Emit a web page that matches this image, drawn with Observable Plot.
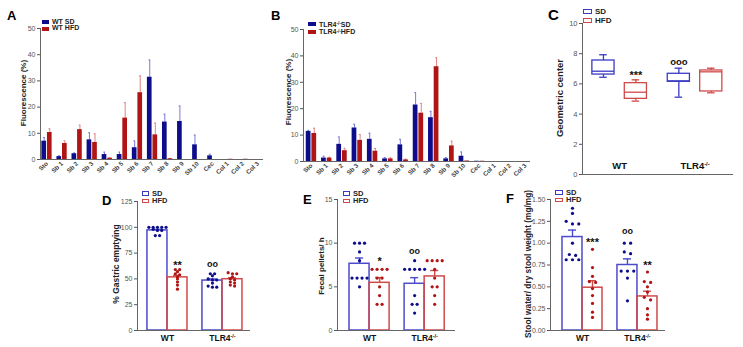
<!DOCTYPE html>
<html><head><meta charset="utf-8">
<script src="https://cdn.jsdelivr.net/npm/d3@7"></script>
<script src="https://cdn.jsdelivr.net/npm/@observablehq/plot@0.6"></script>
<style>
body{margin:0;background:#fff;font-family:Arial,"Liberation Sans",sans-serif;}
#root{position:relative;width:743px;height:347px;overflow:hidden;background:#fff;}
.pw{position:absolute;}
.let{position:absolute;font-weight:bold;font-size:13px;line-height:13px;color:#000;}
.yt{position:absolute;font-weight:bold;color:#222;white-space:nowrap;transform:translate(-50%,-50%) rotate(-90deg);}
.lg{position:absolute;font-weight:bold;color:#222;white-space:nowrap;}
.lg div{display:flex;align-items:center;}
.sw{display:inline-block;box-sizing:border-box;margin-right:3px;}
sup{font-size:0.65em;line-height:0;}
</style></head><body><div id="root"></div>
<script>
// ---------- DATA ----------
const segments = ["Sto","Sb 1","Sb 2","Sb 3","Sb 4","Sb 5","Sb 6","Sb 7","Sb 8","Sb 9","Sb 10","Cec","Col 1","Col 2","Col 3"];
// Panel A (WT)
const aSD     = [7.0, 1.1, 2.2, 7.5, 1.9, 1.9, 4.5, 31.4, 14.3, 14.5, 5.6, 1.4, 0, 0, 0];
const aSDsem  = [1.4, 0.3, 0.3, 2.7, 0.9, 0.9, 2.6, 6.6, 3.0, 5.9, 3.7, 0.6, 0, 0, 0];
const aHFD    = [10.3, 6.1, 11.4, 6.5, 0.5, 15.8, 25.5, 9.4, 0.3, 0, 0, 0, 0.1, 0.1, 0];
const aHFDsem = [1.4, 1.0, 1.7, 3.3, 0.1, 5.9, 6.4, 4.5, 0.1, 0, 0, 0, 0, 0, 0];
// Panel B (TLR4-/-)
const bSD     = [11.4, 1.3, 6.5, 12.7, 8.4, 1.0, 6.3, 21.4, 16.6, 1.0, 2.0, 0.1, 0, 0, 0];
const bSDsem  = [0.4, 0.7, 2.8, 1.4, 2.3, 0.5, 2.1, 4.7, 2.4, 0.5, 1.6, 0, 0, 0, 0];
const bHFD    = [10.6, 1.3, 4.1, 8.0, 3.9, 1.0, 0.6, 18.3, 35.9, 5.9, 0.2, 0.1, 0, 0, 0];
const bHFDsem = [2.0, 0.3, 0.9, 2.2, 1.0, 0.4, 0.3, 3.7, 3.4, 1.8, 0, 0, 0, 0, 0];

const groups = ["WT", "TLR4-/-"];
const diets = ["SD", "HFD"];
// Panel C boxes, order: WT SD, WT HFD, TLR4 SD, TLR4 HFD
const cLow  = [6.44, 4.86, 5.12, 5.41];
const cQ1   = [6.62, 5.01, 6.14, 5.50];
const cMed  = [6.84, 5.45, 6.20, 6.80];
const cQ3   = [7.55, 6.05, 6.67, 6.89];
const cHigh = [7.93, 6.27, 7.04, 7.04];

// Panel D: % gastric emptying
const dMean = [97.0, 51.5, 48.4, 49.7];
const dSem  = [1.0, 1.9, 1.5, 1.4];
const dWtSD   = [100, 100, 100, 100, 100, 98, 97, 97, 92, 92];
const dWtHFD  = [59, 59, 57, 55, 54, 52, 50, 47, 44, 40];
const dTlrSD  = [55, 55, 53, 50, 49, 49, 46, 43, 42, 42];
const dTlrHFD = [56, 55, 55, 52, 50, 49, 47, 46, 44, 43];

// Panel E: fecal pellets / h
const eMean = [7.64, 5.46, 5.35, 6.19];
const eSem  = [0.66, 0.6, 0.7, 0.68];
const eWtSD   = [10, 10, 10, 9, 8, 6, 6, 6, 6, 5];
const eWtHFD  = [7, 7, 7, 7, 6, 6, 5, 4, 3, 3];
const eTlrSD  = [8, 7, 7, 7, 7, 7, 4, 3, 3, 2];
const eTlrHFD = [8, 8, 8, 8, 7, 6, 5, 5, 4, 3];

// Panel F: stool water / dry stool weight
const fMean = [1.07, 0.49, 0.75, 0.39];
const fSem  = [0.08, 0.08, 0.07, 0.06];
const fWtSD   = [1.40, 1.34, 1.25, 1.22, 1.22, 1.00, 0.87, 0.86, 0.81, 0.81, 0.81];
const fWtHFD  = [0.93, 0.72, 0.62, 0.56, 0.55, 0.48, 0.40, 0.31, 0.21, 0.15];
const fTlrSD  = [1.00, 1.00, 0.90, 0.88, 0.68, 0.68, 0.68, 0.60, 0.34];
const fTlrHFD = [0.67, 0.56, 0.55, 0.50, 0.44, 0.38, 0.35, 0.25, 0.18, 0.13];

// significance marks: [label, groupIndex(0..3), y]
const cSig = [["***", 1, 6.77], ["ooo", 2, 7.44]];
const dSig = [["**", 1, 66], ["oo", 2, 64]];
const eSig = [["*", 1, 8.2], ["oo", 2, 9.1]];
const fSig = [["***", 1, 1.04], ["oo", 2, 1.14], ["**", 3, 0.78]];

// ---------- STYLE ----------
const FONT = "Arial, 'Liberation Sans', sans-serif";
const NAVY = "#0d0d8c", RED = "#b01414";
const NAVY_E = "#7a7ad6", RED_E = "#e08282";
const BLUE_O = "#4b4bcc", RED_O = "#d04a4a";
const AXIS = "#666";
const root = document.getElementById("root");

function place(el, left, top) {
  const w = document.createElement("div");
  w.className = "pw"; w.style.left = left + "px"; w.style.top = top + "px";
  w.appendChild(el); root.appendChild(w);
}
function supFix(svg) {
  svg.querySelectorAll("text").forEach(t => {
    if (t.textContent === "TLR4-/-") {
      t.textContent = "TLR4";
      const ts = document.createElementNS("http://www.w3.org/2000/svg", "tspan");
      ts.setAttribute("dy", "-0.45em"); ts.setAttribute("font-size", "0.62em");
      ts.textContent = "-/-"; t.appendChild(ts);
    }
  });
  return svg;
}
function html(cls, left, top, inner, style) {
  const d = document.createElement("div"); d.className = cls;
  d.style.left = left + "px"; d.style.top = top + "px";
  if (style) Object.assign(d.style, style);
  d.innerHTML = inner; root.appendChild(d);
}

// ---------- A & B: grouped bars ----------
function segPanel(sd, sdE, hfd, hfdE, xdom, dims) {
  const rows = segments.map((s, i) => ({i, sd: sd[i], sdE: sdE[i], hfd: hfd[i], hfdE: hfdE[i]}));
  return Plot.plot({
    ...dims,
    style: {fontFamily: FONT, background: "transparent", overflow: "visible"},
    x: {domain: xdom, axis: null},
    y: {domain: [0, 50], axis: null},
    marks: [
      Plot.ruleX(rows.filter(d => d.sdE > 0), {x: d => d.i - 0.185, y1: "sd", y2: d => d.sd + d.sdE, stroke: NAVY_E, strokeWidth: 1}),
      Plot.ruleY(rows.filter(d => d.sdE > 0), {y: d => d.sd + d.sdE, x1: d => d.i - 0.24, x2: d => d.i - 0.13, stroke: NAVY_E, strokeWidth: 1}),
      Plot.ruleX(rows.filter(d => d.hfdE > 0), {x: d => d.i + 0.185, y1: "hfd", y2: d => d.hfd + d.hfdE, stroke: RED_E, strokeWidth: 1}),
      Plot.ruleY(rows.filter(d => d.hfdE > 0), {y: d => d.hfd + d.hfdE, x1: d => d.i + 0.13, x2: d => d.i + 0.24, stroke: RED_E, strokeWidth: 1}),
      Plot.rect(rows, {x1: d => d.i - 0.34, x2: d => d.i - 0.03, y1: 0, y2: "sd", fill: NAVY}),
      Plot.rect(rows, {x1: d => d.i + 0.03, x2: d => d.i + 0.34, y1: 0, y2: "hfd", fill: RED}),
      Plot.ruleY([0], {stroke: AXIS}),
      Plot.ruleX([xdom[0]], {stroke: AXIS}),
      Plot.axisY({ticks: [0, 10, 20, 30, 40, 50], tickSize: 3, tickPadding: 2, fontSize: 7, color: "#555", label: null}),
      Plot.axisX({ticks: d3.range(segments.length), tickFormat: i => segments[i], tickRotate: -45, tickSize: 0, tickPadding: 3, fontSize: 6.3, fontWeight: "bold", color: "#444", label: null})
    ]
  });
}
place(segPanel(aSD, aSDsem, aHFD, aHFDsem, [-0.43, 14.36],
  {width: 270, height: 185, marginLeft: 40, marginRight: 7, marginTop: 28, marginBottom: 26}), 0, 0);
place(segPanel(bSD, bSDsem, bHFD, bHFDsem, [-0.52, 14.33],
  {width: 270, height: 185, marginLeft: 38, marginRight: 5, marginTop: 29, marginBottom: 24}), 265, 0);

// ---------- C: box plots ----------
{
  const boxes = cLow.map((v, k) => ({
    x: 1 + Math.floor(k / 2) + (k % 2 ? 0.215 : -0.215),
    lo: cLow[k], q1: cQ1[k], med: cMed[k], q3: cQ3[k], hi: cHigh[k],
    col: k % 2 ? RED_O : "#3a3ac4"
  }));
  const hw = 0.147, cw = 0.05;
  const sig = cSig.map(([t, k, y]) => ({t, y, ast: t.includes("*"), x: 1 + Math.floor(k / 2) + (k % 2 ? 0.215 : -0.215)}));
  const svg = Plot.plot({
    width: 213, height: 185, marginLeft: 52, marginRight: 10, marginTop: 23, marginBottom: 11,
    style: {fontFamily: FONT, background: "transparent", overflow: "visible"},
    x: {domain: [0.507, 2.51], axis: null},
    y: {domain: [0, 10], axis: null},
    marks: [
      Plot.ruleX(boxes, {x: "x", y1: "q3", y2: "hi", stroke: "col", strokeWidth: 1.3}),
      Plot.ruleX(boxes, {x: "x", y1: "lo", y2: "q1", stroke: "col", strokeWidth: 1.3}),
      Plot.ruleY(boxes, {y: "hi", x1: d => d.x - cw, x2: d => d.x + cw, stroke: "col", strokeWidth: 1.3}),
      Plot.ruleY(boxes, {y: "lo", x1: d => d.x - cw, x2: d => d.x + cw, stroke: "col", strokeWidth: 1.3}),
      Plot.rect(boxes, {x1: d => d.x - hw, x2: d => d.x + hw, y1: "q1", y2: "q3", fill: "white", stroke: "col", strokeWidth: 1.3}),
      Plot.ruleY(boxes, {y: "med", x1: d => d.x - hw, x2: d => d.x + hw, stroke: "col", strokeWidth: 1.3}),
      Plot.text(sig.filter(d => d.ast), {x: "x", y: "y", text: "t", fontSize: 11, fontWeight: "bold", fill: "#111", dy: 3}),
      Plot.text(sig.filter(d => !d.ast), {x: "x", y: "y", text: "t", fontSize: 9.5, fontWeight: "bold", fill: "#111"}),
      Plot.text(groups, {x: (d, i) => i + 1, y: 0, dy: -9, text: d => d, fontSize: 9.5, fontWeight: "bold", fill: "#111"}),
      Plot.ruleY([0], {stroke: AXIS}),
      Plot.ruleX([0.507], {stroke: AXIS}),
      Plot.axisY({ticks: [0, 2, 4, 6, 8, 10], tickSize: 3, tickPadding: 2, fontSize: 7.5, color: "#555", label: null})
    ]
  });
  place(supFix(svg), 530, 0);
}

// ---------- D, E, F: bars with dots ----------
function swarm(values, center, tol, step) {
  const sorted = values.slice().sort((a, b) => b - a);
  const rows = [];
  for (const v of sorted) {
    const r = rows[rows.length - 1];
    if (r && r[0] - v <= tol) r.push(v); else rows.push([v]);
  }
  const out = [];
  for (const r of rows) r.forEach((v, k) => out.push({x: center + (k - (r.length - 1) / 2) * step, y: v}));
  return out;
}
function dotPanel({means, sems, pts, sig, ydom, yticks, fmt, xdom, tol, stepPx, dims}) {
  const unit = 55, bw = 0.364, cap = 0.073;
  const bars = means.map((m, k) => {
    const g = 1 + Math.floor(k / 2), hfd = k % 2;
    return {x1: hfd ? g : g - bw, x2: hfd ? g + bw : g, c: hfd ? g + bw / 2 : g - bw / 2, m, s: sems[k],
            col: hfd ? RED_O : BLUE_O, dot: hfd ? RED : NAVY};
  });
  const dots = pts.flatMap((vals, k) => swarm(vals, bars[k].c, tol, stepPx / unit).map(d => ({...d, col: bars[k].dot})));
  const sg = sig.map(([t, k, y]) => ({t, y, x: bars[k].c, ast: t.includes("*")}));
  const svg = Plot.plot({
    ...dims,
    style: {fontFamily: FONT, background: "transparent", overflow: "visible"},
    x: {domain: xdom, axis: null},
    y: {domain: ydom, axis: null},
    marks: [
      Plot.ruleX(bars, {x: "c", y1: "m", y2: d => d.m + d.s, stroke: "col", strokeWidth: 1.4}),
      Plot.ruleY(bars, {y: d => d.m + d.s, x1: d => d.c - cap, x2: d => d.c + cap, stroke: "col", strokeWidth: 1.4}),
      Plot.rect(bars, {x1: "x1", x2: "x2", y1: ydom[0], y2: "m", fill: "white", fillOpacity: 0, stroke: "col", strokeWidth: 1.5}),
      Plot.dot(dots, {x: "x", y: "y", r: 1.6, fill: "col", stroke: "none"}),
      Plot.text(sg.filter(d => d.ast), {x: "x", y: "y", text: "t", fontSize: 11, fontWeight: "bold", fill: "#111", dy: 3}),
      Plot.text(sg.filter(d => !d.ast), {x: "x", y: "y", text: "t", fontSize: 9, fontWeight: "bold", fill: "#111"}),
      Plot.ruleY([ydom[0]], {stroke: AXIS}),
      Plot.ruleX([xdom[0]], {stroke: AXIS}),
      Plot.axisY({ticks: yticks, tickFormat: fmt, tickSize: 3, tickPadding: 2, fontSize: 7, color: "#555", label: null}),
      Plot.axisX({ticks: [1, 2], tickFormat: i => groups[i - 1], tickSize: 0, tickPadding: 4, fontSize: 8.5, fontWeight: "bold", color: "#111", label: null})
    ]
  });
  return supFix(svg);
}
place(dotPanel({means: dMean, sems: dSem, pts: [dWtSD, dWtHFD, dTlrSD, dTlrHFD], sig: dSig,
  ydom: [0, 125], yticks: [0, 25, 50, 75, 100, 125], fmt: d3.format("d"), xdom: [0.455, 2.51], tol: 1.5, stepPx: 4.3,
  dims: {width: 160, height: 162, marginLeft: 42, marginRight: 5, marginTop: 16, marginBottom: 17}}), 95, 185);
place(dotPanel({means: eMean, sems: eSem, pts: [eWtSD, eWtHFD, eTlrSD, eTlrHFD], sig: eSig,
  ydom: [0, 15], yticks: [0, 5, 10, 15], fmt: d3.format("d"), xdom: [0.418, 2.56], tol: 0.1, stepPx: 5,
  dims: {width: 165, height: 162, marginLeft: 42, marginRight: 5, marginTop: 14, marginBottom: 17}}), 295, 185);
place(dotPanel({means: fMean, sems: fSem, pts: [fWtSD, fWtHFD, fTlrSD, fTlrHFD], sig: fSig,
  ydom: [0, 1.5], yticks: [0, 0.25, 0.5, 0.75, 1, 1.25, 1.5], fmt: d3.format(".2f"), xdom: [0.418, 2.51], tol: 0.035, stepPx: 6.3,
  dims: {width: 160, height: 162, marginLeft: 40, marginRight: 5, marginTop: 14, marginBottom: 17}}), 510, 185);

// ---------- letters, axis titles, legends ----------
html("let", 7, 8.5, "A");
html("let", 271, 8.5, "B");
html("let", 548, 7, "C", {fontSize: "15px", lineHeight: "15px"});
html("let", 102, 193.5, "D");
html("let", 303, 193, "E");
html("let", 506, 192, "F");

html("yt", 23, 93, "Fluorescence (%)", {fontSize: "8px"});
html("yt", 288, 92, "Fluorescence (%)", {fontSize: "8px"});
html("yt", 559, 98, "Geometric center", {fontSize: "9.5px"});
html("yt", 116, 264, "% Gastric emptying", {fontSize: "8.5px"});
html("yt", 321, 265.5, "Fecal pellets/ h", {fontSize: "8px"});
html("yt", 528, 263.5, "Stool water/ dry stool weight (mg/mg)", {fontSize: "8.3px"});

function legend(left, top, labels, cols, hollow, fs, rowH, sw) {
  const inner = labels.map((l, k) => `<div style="height:${rowH}px"><span class="sw" style="width:${sw[0]}px;height:${sw[1]}px;${hollow ? `border:1.2px solid ${cols[k]};background:#fff` : `background:${cols[k]}`}"></span>${l}</div>`).join("");
  html("lg", left, top, inner, {fontSize: fs + "px", lineHeight: rowH + "px"});
}
legend(42, 18.5, ["WT SD", "WT HFD"], [NAVY, RED], false, 7, 6.8, [7, 4]);
legend(308, 20.5, ["TLR4<sup>-/-</sup> SD", "TLR4<sup>-/-</sup> HFD"], [NAVY, RED], false, 7, 7.5, [8, 4]);
legend(583, 7, diets, ["#3a3ac4", RED_O], true, 8, 9, [9, 5]);
legend(142, 189.5, diets, ["#3a3ac4", RED_O], true, 7.5, 7.5, [7, 4.5]);
legend(343, 189.5, diets, ["#3a3ac4", RED_O], true, 7.5, 7.5, [7, 4.5]);
legend(555, 188.5, diets, ["#3a3ac4", RED_O], true, 7.5, 7.5, [8, 4.5]);
</script></body></html>
